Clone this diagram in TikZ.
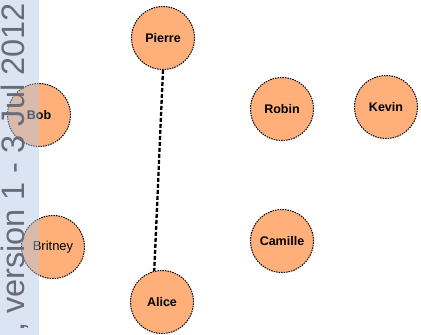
\documentclass[tikz,border=0pt]{standalone}
\usepackage{fontspec}
\setmainfont{Liberation Sans}
\definecolor{nodeorange}{RGB}{255,176,122}
\definecolor{bandblue}{RGB}{177,198,228}
\definecolor{markgray}{RGB}{105,108,118}
\begin{document}
\begin{tikzpicture}[x=1pt,y=-1pt,
  person/.style={circle, draw=black, dash pattern=on 1.5pt off 1pt, line width=1pt, fill=nodeorange,
    minimum size=63pt, inner sep=0pt, font=\fontsize{12.5}{14}\selectfont\bfseries},
  link/.style={draw=black, line width=2.3pt, dash pattern=on 4pt off 2pt},
  band/.style={fill=bandblue, opacity=0.47},
  wmtext/.style={rotate=90, anchor=base east, inner sep=0pt, text=markgray,
    font=\fontsize{32.5}{36}\selectfont}]
\useasboundingbox (0,0) rectangle (421,335);
\node[person] (pierre) at (163,38) {Pierre};
\node[person] (bob) at (39,115) {Bob};
\node[person, font=\fontsize{13}{15}\selectfont] (britney) at (53,247) {Britney};
\node[person] (alice) at (162,302) {Alice};
\node[person] (robin) at (282,109) {Robin};
\node[person] (kevin) at (386,107) {Kevin};
\node[person] (camille) at (282,241) {Camille};
\draw[link] (pierre.south) -- (alice.104);
\fill[band] (0,0) rectangle (39,335);
\begin{scope}
\clip (0,0) rectangle (39,335);
\node[wmtext] (watermark) at (24,3) {, version 1 - 3 Jul 2012};
\end{scope}
\end{tikzpicture}
\end{document}
